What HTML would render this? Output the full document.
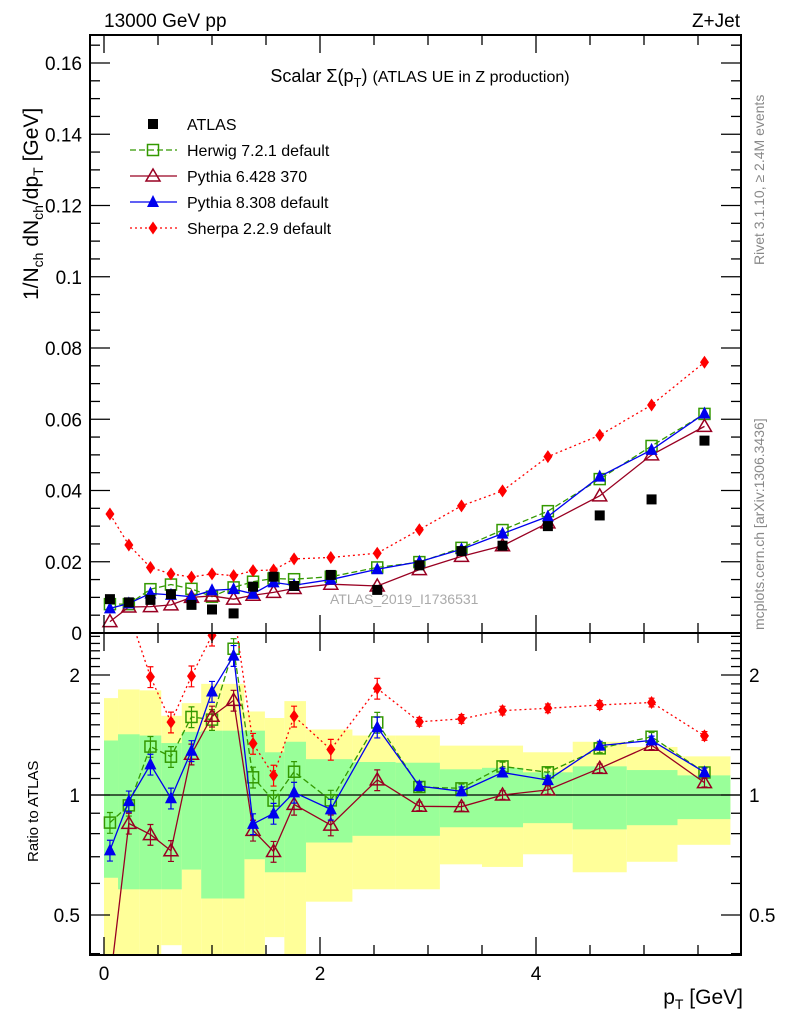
<!DOCTYPE html>
<html><head><meta charset="utf-8"><style>
html,body{margin:0;padding:0;background:#fff;}
svg{display:block;font-family:"Liberation Sans",sans-serif;}
</style></head><body>
<svg id="c" width="786" height="1024" xmlns="http://www.w3.org/2000/svg"></svg>
<script>
const pT = [0.055,0.23,0.43,0.62,0.81,1.0,1.2,1.38,1.57,1.76,2.1,2.53,2.92,3.31,3.69,4.11,4.59,5.07,5.56];
const binEdges = [0,0.13,0.33,0.53,0.72,0.9,1.1,1.3,1.49,1.67,1.87,2.3,2.7,3.11,3.5,3.88,4.34,4.84,5.31,5.8];
const atlas = [0.0095,0.0086,0.0093,0.0109,0.0079,0.0066,0.0055,0.0130,0.0158,0.0132,0.0163,0.0121,0.0190,0.0230,0.0245,0.0300,0.0330,0.0375,0.0540];
const herwig = [0.0081,0.0081,0.0123,0.0136,0.0124,0.0102,0.0128,0.0144,0.0153,0.0151,0.0158,0.0184,0.0199,0.0239,0.0289,0.0342,0.0432,0.0525,0.0615];
const pythia6 = [0.0032,0.0073,0.0074,0.0079,0.0100,0.0104,0.0095,0.0106,0.0114,0.0125,0.0137,0.0132,0.0178,0.0215,0.0245,0.0309,0.0385,0.0500,0.0580];
const pythia8 = [0.0069,0.0083,0.0111,0.0107,0.0102,0.0120,0.0123,0.0110,0.0142,0.0134,0.0150,0.0179,0.0200,0.0235,0.0279,0.0327,0.0439,0.0514,0.0616];
const sherpa = [0.0334,0.0247,0.0184,0.0166,0.0157,0.0166,0.0161,0.0175,0.0177,0.0208,0.0212,0.0224,0.0290,0.0357,0.0399,0.0495,0.0555,0.0640,0.0760];
const greenHi = [1.37,1.42,1.41,1.35,1.44,1.45,1.45,1.45,1.28,1.36,1.23,1.21,1.205,1.16,1.17,1.14,1.18,1.155,1.12];
const greenLo = [0.62,0.58,0.58,0.58,0.65,0.55,0.55,0.69,0.64,0.64,0.76,0.79,0.79,0.83,0.83,0.85,0.82,0.84,0.87];
const yellowHi = [1.75,1.84,1.83,1.58,1.70,1.90,1.90,1.62,1.56,1.72,1.46,1.41,1.41,1.33,1.33,1.28,1.36,1.32,1.25];
const yellowLo = [0.3,0.3,0.3,0.42,0.3,0.3,0.3,0.3,0.44,0.3,0.54,0.58,0.58,0.67,0.66,0.71,0.64,0.68,0.75];
const mainTicks = ["0","0.02","0.04","0.06","0.08","0.1","0.12","0.14","0.16"];
const xTickLabels = ["0","2","4"];
const ratioTickLabels = ["0.5","1","2"];

const L=90,R=741,T=35,MB=633,RB=955;
const X=v=>104+v*108;
const Y=v=>633-v*3562.5;
const RY=r=>795-120*Math.log2(r);
const svg=document.getElementById('c');
const NS='http://www.w3.org/2000/svg';
function mk(tag,attrs,parent){const e=document.createElementNS(NS,tag);for(const k in attrs)e.setAttribute(k,attrs[k]);(parent||svg).appendChild(e);return e;}

const defs=mk('defs',{});
const c1=mk('clipPath',{id:'cm'},defs);mk('rect',{x:L,y:T,width:R-L,height:MB-T},c1);
const c2=mk('clipPath',{id:'cr'},defs);mk('rect',{x:L,y:MB,width:R-L,height:RB-MB},c2);

const gBand=mk('g',{'clip-path':'url(#cr)'});


for(let i=0;i<pT.length;i++){
  const x0=X(binEdges[i]),x1=X(binEdges[i+1]);
  const y=mk('rect',{x:x0,y:RY(yellowHi[i]),width:x1-x0,height:RY(yellowLo[i])-RY(yellowHi[i]),fill:'#ffff99'},gBand);
  
  
}
for(let i=0;i<pT.length;i++){
  const x0=X(binEdges[i]),x1=X(binEdges[i+1]);
  const g=mk('rect',{x:x0,y:RY(greenHi[i]),width:x1-x0,height:RY(greenLo[i])-RY(greenHi[i]),fill:'#99ff99'},gBand);
  
  
}
mk('line',{x1:L,x2:R,y1:RY(1),y2:RY(1),stroke:'#000','stroke-width':1.2});

function marker(type,x,y,col,parent){
  let e;
  if(type==='sq') e=mk('rect',{x:x-5,y:y-5,width:10,height:10,fill:'#000'},parent);
  else if(type==='osq') e=mk('rect',{x:x-5.5,y:y-5.5,width:11,height:11,fill:'none',stroke:col,'stroke-width':1.5},parent);
  else if(type==='otri') e=mk('path',{d:`M${x},${y-7}L${x+7},${y+5}L${x-7},${y+5}Z`,fill:'none',stroke:col,'stroke-width':1.5},parent);
  else if(type==='tri') e=mk('path',{d:`M${x},${y-7}L${x+6},${y+5}L${x-6},${y+5}Z`,fill:col},parent);
  else e=mk('path',{d:`M${x},${y-6.5}L${x+4.5},${y}L${x},${y+6.5}L${x-4.5},${y}Z`,fill:col},parent);
  return e;
}
const series=[
  {name:'herwig',data:herwig,col:'#339900',dash:'6,3',m:'osq',label:'Herwig 7.2.1 default'},
  {name:'pythia6',data:pythia6,col:'#990022',dash:'',m:'otri',label:'Pythia 6.428 370'},
  {name:'pythia8',data:pythia8,col:'#0000ee',dash:'',m:'tri',label:'Pythia 8.308 default'},
  {name:'sherpa',data:sherpa,col:'#ff0000',dash:'2,3',m:'dia',label:'Sherpa 2.2.9 default'}
];
const gMain=mk('g',{'clip-path':'url(#cm)'});


const wm=mk('text',{x:330,y:604,'font-size':14,fill:'#aaa'},svg);wm.textContent='ATLAS_2019_I1736531';


series.forEach(s=>{
  const g=mk('g',{},gMain);
  
  
  mk('polyline',{points:pT.map((p,i)=>X(p)+','+Y(s.data[i])).join(' '),fill:'none',stroke:s.col,'stroke-width':1.3,'stroke-dasharray':s.dash},g);
  pT.forEach((p,i)=>{const m=marker(s.m,X(p),Y(s.data[i]),s.col,g);
    
    });
});
const ga=mk('g',{},gMain);


pT.forEach((p,i)=>{const m=marker('sq',X(p),Y(atlas[i]),'#000',ga);
  
  });

const gR=mk('g',{'clip-path':'url(#cr)'});


series.forEach(s=>{
  const g=mk('g',{},gR);
  
  
  const r=s.data.map((v,i)=>v/atlas[i]);
  mk('polyline',{points:pT.map((p,i)=>X(p)+','+RY(r[i])).join(' '),fill:'none',stroke:s.col,'stroke-width':1.3,'stroke-dasharray':s.dash},g);
  pT.forEach((p,i)=>{
    const x=X(p),y=RY(r[i]),e=i<12?0.06:0.025;
    const y1=RY(r[i]*(1+e)),y2=RY(r[i]*(1-e));
    mk('path',{d:`M${x},${y1}V${y2}M${x-3},${y1}H${x+3}M${x-3},${y2}H${x+3}`,stroke:s.col,'stroke-width':1.2,fill:'none'},g);
    const m=marker(s.m,x,y,s.col,g);
    
    
  });
});

mk('rect',{x:L,y:T,width:R-L,height:MB-T,fill:'none',stroke:'#000','stroke-width':2});
mk('rect',{x:L,y:MB,width:R-L,height:RB-MB,fill:'none',stroke:'#000','stroke-width':2});

const ax=mk('g',{stroke:'#000','stroke-width':1.3});
for(let k=0;k<=33;k++){const v=k*0.005,y=Y(v);if(y<T)break;const len=k%4===0?20:10;
  mk('line',{x1:L,x2:L+len,y1:y,y2:y},ax);mk('line',{x1:R,x2:R-len,y1:y,y2:y},ax);}
mainTicks.forEach((t,i)=>{const tx=mk('text',{x:L-8,y:Y(i*0.02)+7,'text-anchor':'end','font-size':19},svg);tx.textContent=t;
  
  });
for(let k=0;k<=11;k++){const v=k*0.5,x=X(v);const len=k%4===0?18:10;
  [[MB,MB-len],[T,T+len],[RB,RB-len],[MB,MB+len]].forEach(a=>mk('line',{x1:x,x2:x,y1:a[0],y2:a[1]},ax));}
xTickLabels.forEach((t,i)=>{const tx=mk('text',{x:X(i*2),y:980,'text-anchor':'middle','font-size':19},svg);tx.textContent=t;
  
  });
[0.4,0.5,0.6,0.7,0.8,0.9,1,1.1,1.2,1.3,1.4,1.5,1.6,1.7,1.8,1.9,2,2.1,2.2,2.3,2.4,2.5].forEach(v=>{
  const y=RY(v);if(y<MB||y>RB)return;const len=(v===0.5||v===1||v===2)?20:10;
  mk('line',{x1:L,x2:L+len,y1:y,y2:y},ax);mk('line',{x1:R,x2:R-len,y1:y,y2:y},ax);});
[0.5,1,2].forEach((v,i)=>{
  const a=mk('text',{x:L-10,y:RY(v)+7,'text-anchor':'end','font-size':19},svg);a.textContent=ratioTickLabels[i];
  
  
  const b=mk('text',{x:R+8,y:RY(v)+7,'font-size':19},svg);b.textContent=ratioTickLabels[i];
  
  });

const lg=mk('g',{});


const ly0=124;
{const e=mk('g',{},lg);
 marker('sq',153,ly0,'#000',e);const t=mk('text',{x:187,y:ly0+6,'font-size':16},e);t.textContent='ATLAS';}
series.forEach((s,i)=>{const y=ly0+26*(i+1);const e=mk('g',{},lg);
  
  
  mk('line',{x1:130,x2:177,y1:y,y2:y,stroke:s.col,'stroke-width':1.3,'stroke-dasharray':s.dash},e);
  marker(s.m,153,y,s.col,e);const t=mk('text',{x:187,y:y+6,'font-size':16},e);t.textContent=s.label;});
</script>
<svg width="786" height="1024" style="position:absolute;left:0;top:0;font-family:'Liberation Sans',sans-serif">
<text x="104" y="27" font-size="19">13000 GeV pp</text>
<text x="740" y="27" font-size="19" text-anchor="end">Z+Jet</text>
<text x="420" y="82" font-size="18" text-anchor="middle">Scalar Σ(p<tspan font-size="13" dy="5">T</tspan><tspan dy="-5">) </tspan><tspan font-size="16">(ATLAS UE in Z production)</tspan></text>
<text transform="translate(764,265) rotate(-90)" font-size="14" fill="#888">Rivet 3.1.10, ≥ 2.4M events</text>
<text transform="translate(764,630) rotate(-90)" font-size="14" fill="#888">mcplots.cern.ch [arXiv:1306.3436]</text>
<text transform="translate(38,300) rotate(-90)" font-size="21">1/N<tspan font-size="14" dy="5">ch</tspan><tspan dy="-5"> dN</tspan><tspan font-size="14" dy="5">ch</tspan><tspan dy="-5">/dp</tspan><tspan font-size="14" dy="5">T</tspan><tspan dy="-5"> [GeV]</tspan></text>
<text transform="translate(38,862) rotate(-90)" font-size="15">Ratio to ATLAS</text>
<text x="743" y="1004" font-size="21" text-anchor="end">p<tspan font-size="14" dy="5">T</tspan><tspan dy="-5"> [GeV]</tspan></text>
</svg>
</body></html>
